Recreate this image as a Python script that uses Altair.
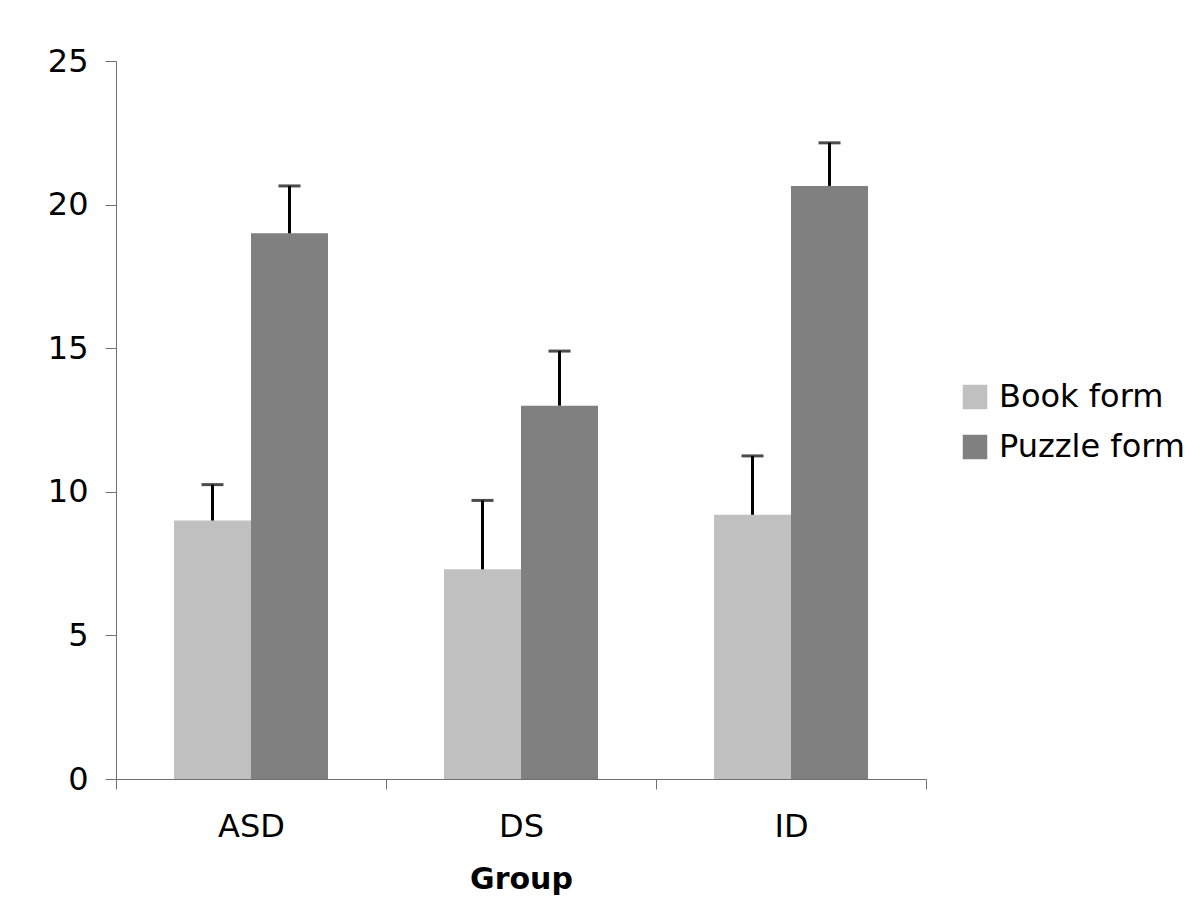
import altair as alt
import pandas as pd

groups = ["ASD", "DS", "ID"]
forms = ["Book form", "Puzzle form"]
book_means = [9.0, 7.3, 9.2]
book_errors = [1.25, 2.4, 2.05]
puzzle_means = [19.0, 13.0, 20.65]
puzzle_errors = [1.65, 1.9, 1.5]
y_ticks = [0, 5, 10, 15, 20, 25]
colors = ["#c0c0c0", "#808080"]

rows = []
for i, g in enumerate(groups):
    rows.append({"group": g, "form": forms[0], "mean": book_means[i],
                 "upper": book_means[i] + book_errors[i]})
    rows.append({"group": g, "form": forms[1], "mean": puzzle_means[i],
                 "upper": puzzle_means[i] + puzzle_errors[i]})
df = pd.DataFrame(rows)

FONT = "DejaVu Sans"

x = alt.X(
    "group:N", sort=groups,
    scale=alt.Scale(paddingInner=0, paddingOuter=0),
    axis=alt.Axis(
        title="Group", labelAngle=0, tickBand="extent",
        labelFont=FONT, labelFontSize=32, labelColor="black", labelPadding=22,
        titleFont=FONT, titleFontSize=30, titleFontWeight="bold", titleColor="black",
        titlePadding=22,
        tickSize=10, tickColor="#707070", domainColor="#707070", domainWidth=1, tickWidth=1,
    ),
)
xoff = alt.XOffset("form:N", sort=forms,
                   scale=alt.Scale(paddingInner=0, paddingOuter=0.753))
y = alt.Y(
    "mean:Q",
    scale=alt.Scale(domain=[0, 25], nice=False),
    axis=alt.Axis(
        title=None, values=y_ticks, grid=False,
        labelFont=FONT, labelFontSize=32, labelColor="black", labelPadding=17,
        tickSize=11, tickColor="#707070", domainColor="#707070", domainWidth=1, tickWidth=1,
    ),
)

bars = alt.Chart(df).mark_bar(strokeWidth=0).encode(
    x=x, xOffset=xoff, y=y,
    color=alt.Color(
        "form:N", sort=forms,
        scale=alt.Scale(domain=forms, range=colors),
        legend=alt.Legend(
            title=None, orient="none", legendX=843, legendY=320,
            symbolType="square", symbolSize=600, symbolStrokeWidth=0,
            labelFont=FONT, labelFontSize=32, labelColor="black", labelLimit=0,
            labelOffset=8, rowPadding=18, padding=0,
        ),
    ),
)

rules = alt.Chart(df).mark_rule(color="black", strokeWidth=3).encode(
    x=x, xOffset=xoff, y=alt.Y("mean:Q"), y2="upper:Q",
)

caps = alt.Chart(df).mark_tick(color="black", orient="horizontal", size=22, thickness=3).encode(
    x=x, xOffset=xoff, y=alt.Y("upper:Q"),
)

chart = alt.layer(bars, rules, caps).properties(
    width=810, height=718,
    autosize=alt.AutoSizeParams(type="none"),
    padding={"left": 108, "top": 53, "right": 266, "bottom": 120},
).configure(
    background="white",
    view=alt.ViewConfig(stroke=None, strokeWidth=0),
)

chart.save("out.html", embed_options={"renderer": "svg", "actions": False})
